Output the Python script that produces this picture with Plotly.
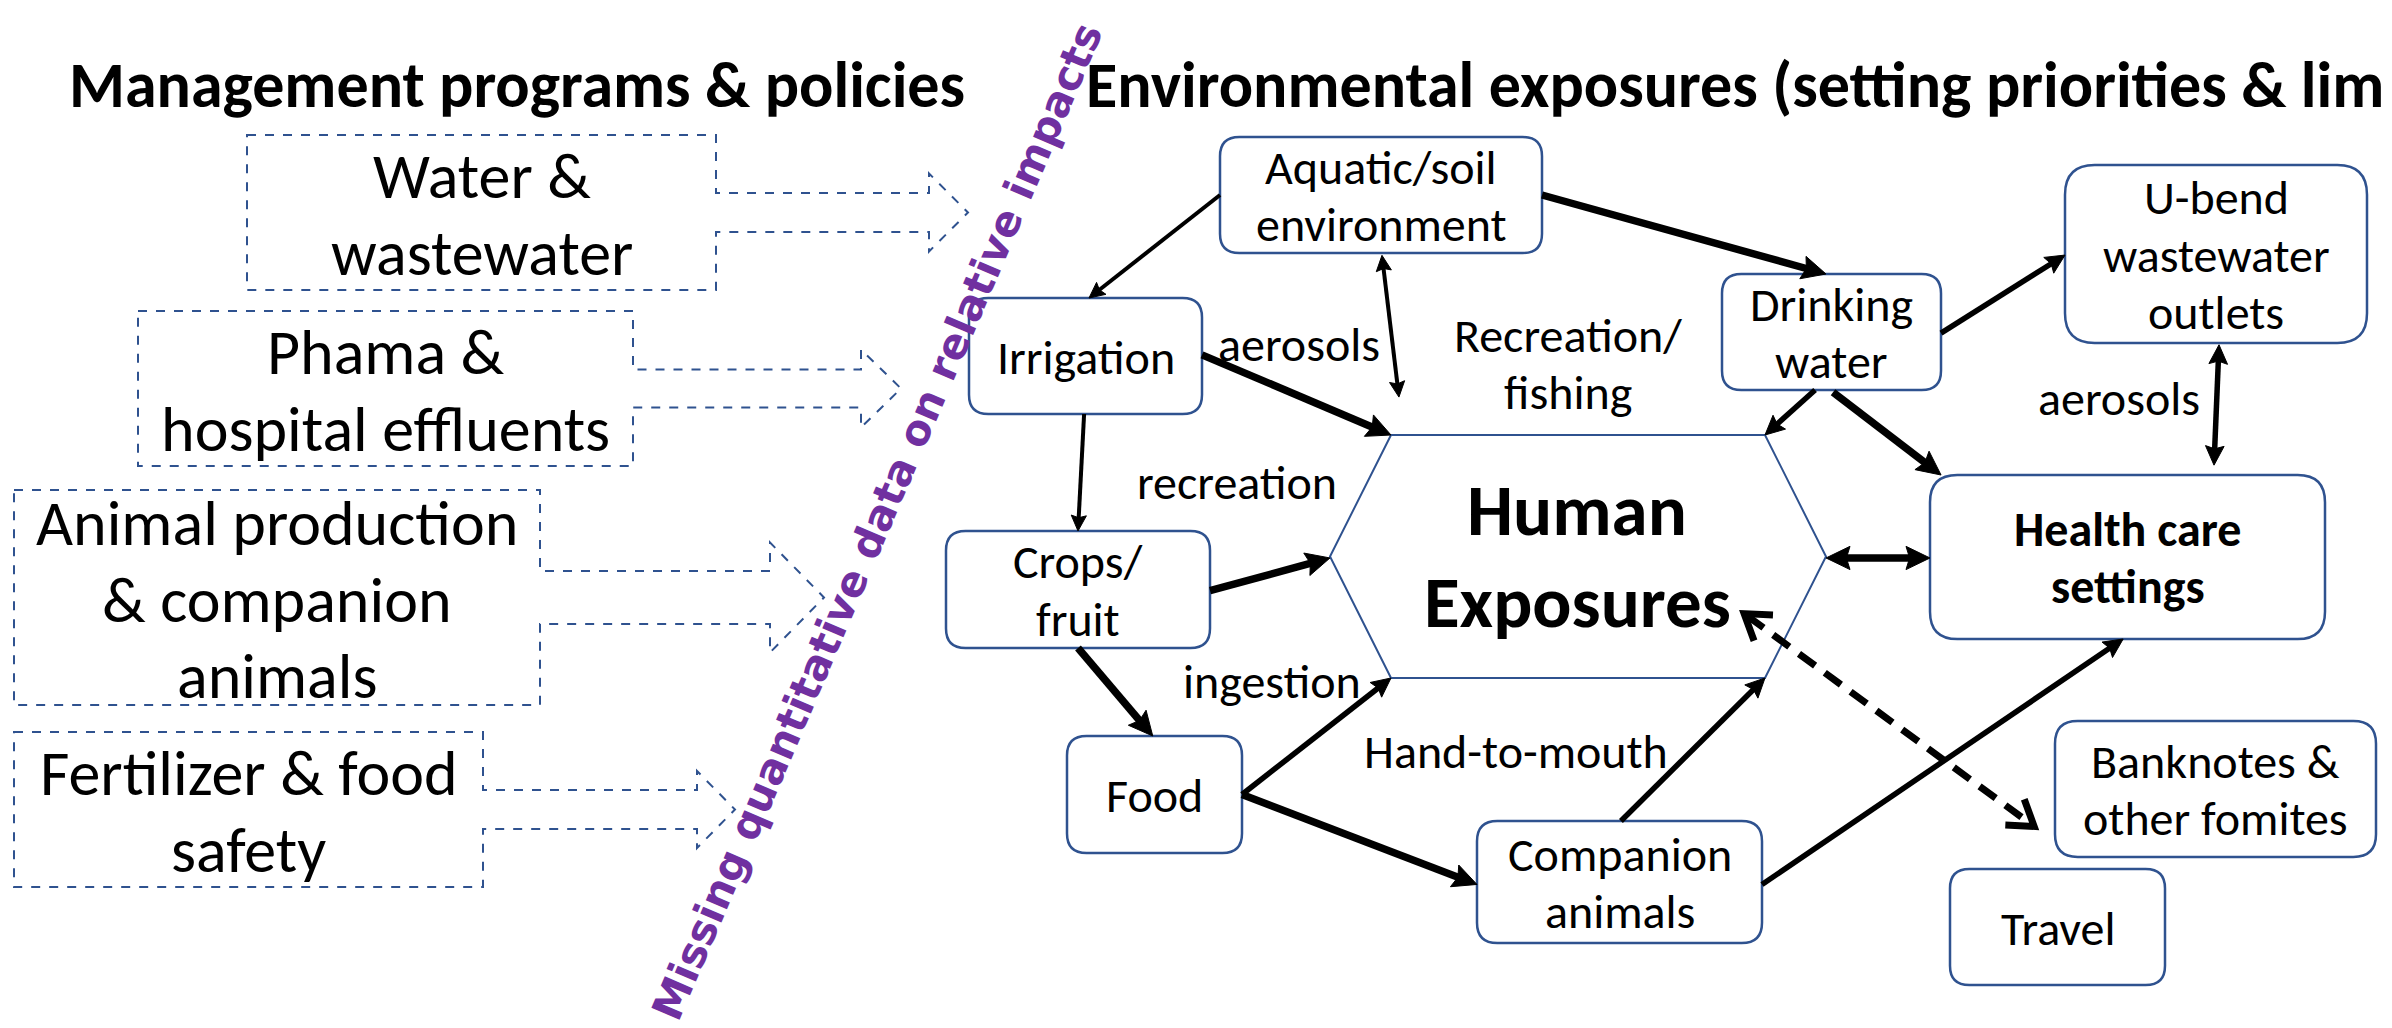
import math
import plotly.graph_objects as go

W, H = 2392, 1028
OFF = 8  # page body margin: data coordinates == window pixels
FONT = "Carlito, Calibri, Lato, sans-serif"
BLUE = "#2F528F"
PURPLE = "#7030A0"

# ---------------- text content ----------------
left_title = "Management programs & policies"
right_title = "Environmental exposures (setting priorities & limits)"
diagonal_note = "Missing quantitative data on relative impacts"

policy_labels = [["Water &", "wastewater"], ["Phama &", "hospital effluents"],
                 ["Animal production", "& companion", "animals"], ["Fertilizer & food", "safety"]]

node_ids = ["aquatic", "irrigation", "crops", "food", "companion", "drinking",
            "ubend", "health", "banknotes", "travel", "hex"]
node_labels = [["Aquatic/soil", "environment"], ["Irrigation"], ["Crops/", "fruit"], ["Food"],
               ["Companion", "animals"], ["Drinking", "water"], ["U-bend", "wastewater", "outlets"],
               ["Health care", "settings"], ["Banknotes &", "other fomites"], ["Travel"], []]
hub_lines = ["Human", "Exposures"]

route_labels = [["aerosols"], ["Recreation/", "fishing"], ["recreation"], ["aerosols"],
                ["ingestion"], ["Hand-to-mouth"]]

# edges
edge_from = ["aquatic", "aquatic", "aquatic", "irrigation", "drinking", "drinking", "drinking", "ubend",
             "irrigation", "crops", "crops", "food", "food", "companion", "companion", "hex", "hex"]
edge_to = ["irrigation", "drinking", "hex", "hex", "hex", "health", "ubend", "health",
           "crops", "hex", "food", "hex", "companion", "hex", "health", "health", "banknotes"]
edge_weight = ["thin", "thick", "thin", "thick", "mid", "thick", "mid", "mid",
               "thin", "thick", "thick", "mid", "thick", "mid", "mid", "thick", "mid"]
edge_both = [False, False, True, False, False, False, False, True,
             False, False, False, False, False, False, False, True, True]
edge_dashed = [False] * 16 + [True]

# ---------------- layout geometry (window pixels) ----------------
node_box = {
    "aquatic": (1220, 137, 1542, 253),
    "irrigation": (969, 298, 1202, 414),
    "crops": (946, 531, 1210, 648),
    "food": (1067, 736, 1242, 853),
    "companion": (1477, 821, 1762, 943),
    "drinking": (1722, 274, 1941, 390),
    "ubend": (2065, 165, 2367, 343),
    "health": (1930, 475, 2325, 639),
    "banknotes": (2055, 721, 2376, 857),
    "travel": (1950, 869, 2165, 985),
    "hex": (1330, 435, 1826, 678),
}
node_bold = {"health"}
edge_start = [(0, .5), (1, .5), (.503, 1.02), (1, .49), (.425, 1), (.507, 1.02), (1, .51), (.51, 1.01),
              (.494, 1), (1, .51), (.5, 1), (1, .5), (1, .5), (.505, 0), (1, .52), (1, .506), (.835, .735)]
edge_end = [(.515, 0), (.475, 0), (.139, -.156), (.123, 0), (.877, 0), (.028, 0), (0, .506), (.719, -.06),
            (.5, 0), (0, .506), (.49, 0), (.123, 1), (0, .52), (.877, 1), (.489, 1), (0, .506), (-.065, .775)]
weight_px = {"thin": 4.0, "mid": 5.5, "thick": 7.5}

policy_box = [(247, 135, 716, 290), (138, 311, 633, 466), (14, 490, 540, 705), (14, 732, 483, 887)]
policy_arrow = [(929, 968, 19.5, 39), (861, 901, 19, 39), (770, 824, 26.5, 55), (697, 735, 19.5, 38.5)]

route_pos = [(1299, 344), (1568, 364), (1237, 482), (2119, 398), (1272, 681), (1516, 751)]

shapes = []
annotations = []


def text_block(cx, cy, lines, size, bold=False, spacing=1.19, color="black", family=FONT, dy=0):
    n = len(lines)
    for i, ln in enumerate(lines):
        y = cy + (i - (n - 1) / 2) * size * spacing + dy
        annotations.append(dict(x=cx, y=y, text=f"<b>{ln}</b>" if bold else ln, showarrow=False,
                                font=dict(family=family, size=size, color=color),
                                xanchor="center", yanchor="middle"))


def rrect(x0, y0, x1, y1, r):
    return (f"M {x0+r},{y0} L {x1-r},{y0} Q {x1},{y0} {x1},{y0+r} L {x1},{y1-r} "
            f"Q {x1},{y1} {x1-r},{y1} L {x0+r},{y1} Q {x0},{y1} {x0},{y1-r} "
            f"L {x0},{y0+r} Q {x0},{y0} {x0+r},{y0} Z")


# policy callout boxes (dashed)
for (x0, y0, x1, y1), (sx, tx, sh, hh), lab in zip(policy_box, policy_arrow, policy_labels):
    cy = (y0 + y1) / 2
    path = (f"M {x0},{y0} L {x1},{y0} L {x1},{cy-sh} L {sx},{cy-sh} L {sx},{cy-hh} L {tx},{cy} "
            f"L {sx},{cy+hh} L {sx},{cy+sh} L {x1},{cy+sh} L {x1},{y1} L {x0},{y1} Z")
    shapes.append(dict(type="path", path=path, line=dict(color=BLUE, width=2, dash="dash"),
                       fillcolor="white", layer="below"))
    text_block((x0 + x1) / 2, cy, lab, 64, spacing=1.2, dy=2)

# nodes
for nid, lab in zip(node_ids, node_labels):
    x0, y0, x1, y1 = node_box[nid]
    cy = (y0 + y1) / 2
    if nid == "hex":
        path = (f"M {x0},{cy} L {x0+61},{y0} L {x1-61},{y0} L {x1},{cy} L {x1-61},{y1} L {x0+61},{y1} Z")
        shapes.append(dict(type="path", path=path, line=dict(color=BLUE, width=2), fillcolor="white"))
        continue
    r = min(x1 - x0, y1 - y0) / 6
    shapes.append(dict(type="path", path=rrect(x0, y0, x1, y1, r),
                       line=dict(color=BLUE, width=2.5), fillcolor="white"))
    text_block((x0 + x1) / 2, cy, lab, 48, bold=nid in node_bold, dy=1)

# hub text
text_block(1577, 560, hub_lines, 73, bold=True, spacing=1.25, dy=-4)


def anchor(nid, f):
    x0, y0, x1, y1 = node_box[nid]
    return x0 + f[0] * (x1 - x0), y0 + f[1] * (y1 - y0)


def head(tip, d, w, open_=False):
    nx, ny = -d[1], d[0]
    if open_:
        L, hw = 24, 16
        bx, by = tip[0] - L * d[0], tip[1] - L * d[1]
        path = f"M {bx+hw*nx},{by+hw*ny} L {tip[0]},{tip[1]} L {bx-hw*nx},{by-hw*ny}"
        shapes.append(dict(type="path", path=path, line=dict(color="black", width=w)))
        return tip[0] - 4 * d[0], tip[1] - 4 * d[1]
    L = 2.4 * w + 6
    hw = 1.15 * w + 3
    bx, by = tip[0] - L * d[0], tip[1] - L * d[1]
    path = (f"M {tip[0]},{tip[1]} L {bx+hw*nx},{by+hw*ny} L {bx+0.15*L*d[0]},{by+0.15*L*d[1]} "
            f"L {bx-hw*nx},{by-hw*ny} Z")
    shapes.append(dict(type="path", path=path, line=dict(color="black", width=1), fillcolor="black"))
    return bx + 0.3 * L * d[0], by + 0.3 * L * d[1]


for a, b, wt, both, dashed, fs, fe in zip(edge_from, edge_to, edge_weight, edge_both, edge_dashed,
                                          edge_start, edge_end):
    w = weight_px[wt] + (1.5 if dashed else 0)
    p0 = anchor(a, fs)
    p1 = anchor(b, fe)
    dx, dy = p1[0] - p0[0], p1[1] - p0[1]
    n = math.hypot(dx, dy)
    d = (dx / n, dy / n)
    q1 = head(p1, d, w, dashed)
    q0 = head(p0, (-d[0], -d[1]), w, dashed) if both else p0
    shapes.append(dict(type="line", x0=q0[0], y0=q0[1], x1=q1[0], y1=q1[1],
                       line=dict(color="black", width=w, dash="20px,12px" if dashed else "solid")))

# route labels
for lab, (x, y) in zip(route_labels, route_pos):
    text_block(x, y, lab, 48)

# titles
annotations.append(dict(x=67, y=85, text=f"<b>{left_title}</b>", showarrow=False,
                        font=dict(family=FONT, size=64, color="black"), xanchor="left", yanchor="middle"))
annotations.append(dict(x=1084, y=85, text=f"<b>{right_title}</b>", showarrow=False,
                        font=dict(family=FONT, size=64, color="black"), xanchor="left", yanchor="middle"))

# diagonal note
annotations.append(dict(x=877, y=521, text=f"<b>{diagonal_note}</b>", showarrow=False, textangle=-66.8,
                        font=dict(family="DejaVu Sans", size=42, color=PURPLE),
                        xanchor="center", yanchor="middle"))

fig = go.Figure()
fig.update_layout(
    width=W - OFF, height=H - OFF, margin=dict(l=0, r=0, t=0, b=0, pad=0),
    paper_bgcolor="white", plot_bgcolor="white",
    xaxis=dict(range=[OFF, W], visible=False, fixedrange=True),
    yaxis=dict(range=[H, OFF], visible=False, fixedrange=True),
    shapes=shapes, annotations=annotations, showlegend=False,
)
fig.write_html("out.html")
